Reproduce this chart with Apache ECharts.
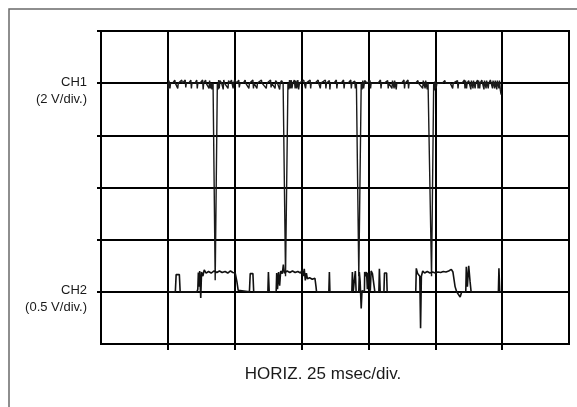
<!DOCTYPE html>
<html>
<head>
<meta charset="utf-8">
<script src="https://cdn.jsdelivr.net/npm/echarts@6/dist/echarts.min.js"></script>
<style>html,body{margin:0;padding:0;background:#fff;}#c{width:577px;height:407px;}</style>
</head>
<body>
<div id="c"></div>
<script>
// time axis in msec (25 msec/div, 7 divisions); vertical axis in screen divisions (6 divisions)
const timeTicks = [25, 50, 75, 100, 125, 150];
const divTicks = [1, 2, 3, 4, 5, 6];
const channelLabels = [
  { level: 5, name: 'CH1', scale: '(2 V/div.)' },
  { level: 1, name: 'CH2', scale: '(0.5 V/div.)' }
];
const xTitle = 'HORIZ. 25 msec/div.';

// CH1 trace: [msec, div]
const ch1 = [
  [25,5],[25.2,4.88],[25.4,5.05],[25.8,4.9],[26,5],[26.8,5],[27.6,5.06],[27.8,5],[28.7,4.9],[28.9,5],[30.2,5.06],[30.4,5],
  [31.5,5.06],[31.7,4.92],[31.9,5],[32.8,5],[33.6,5.06],[33.8,4.9],[34,5],[35.2,5],[35.8,5.06],[36,4.9],[36.2,5],[37,5],
  [38,5.06],[38.2,4.88],[38.4,5],[39.1,5.06],[39.3,5],[40.4,4.9],[40.6,5.05],[41,4.9],[41.2,5],[41.5,4.88],[41.9,5],
  [42.7,1.22],[43.5,5],
  [43.8,4.88],[44,5.06],[44.2,4.9],[44.5,5.05],[45.1,5],[45.7,4.88],[45.9,5.06],[46.2,5],[46.8,5],[47.5,4.9],[47.7,5.05],
  [48.1,5],[48.8,5.06],[49,5],[49.4,4.9],[49.6,5],[50,5.06],[50.8,5],[51.5,5.06],[51.7,4.92],[52,5],[53.2,5],[53.9,5.06],
  [54.1,5],[55.3,4.9],[55.5,5],[56,5],[56.8,5.06],[57,4.9],[57.2,5],[58.3,4.9],[58.5,5],[59.2,5],[60,5.06],[60.2,5],
  [61.8,4.9],[62,5],[62.5,5],[63.4,5.06],[63.6,4.92],[63.8,5],[65.1,4.9],[65.3,5.05],[66,5],[66.8,4.88],[67,5],[67.5,5.05],[68.1,5],
  [69,1.3],[69.9,5],
  [70.2,4.88],[70.5,5.06],[70.8,4.9],[71.1,5.06],[71.4,4.9],[71.7,5],[72.3,5.06],[72.6,4.9],[72.9,5.05],[73.2,4.9],
  [73.6,5.06],[73.9,4.88],[74.2,5],[74.9,5],[75.8,5.06],[76,5],[76.5,4.9],[76.7,5],[77.3,5],[78.2,5.06],[78.4,4.9],
  [78.6,5],[80,5],[81.2,5.06],[81.4,5],[82,4.9],[82.2,5],[82.8,5],[83.9,5.06],[84.1,4.9],[84.3,5],[85.4,5.05],[85.6,4.88],
  [85.8,5],[87.1,5],[88,5.06],[88.2,4.9],[88.4,5],[89.8,5],[90.7,5.06],[90.9,4.9],[91.1,5],[92.4,5],[93.4,5.06],[93.6,4.9],
  [93.8,5],[94.9,5.04],[95.1,4.9],[95.5,5],
  [96.4,1.3],[97.3,5],
  [97.6,4.88],[97.9,5.05],[98.2,4.9],[98.6,5.05],[99.5,5],[100.6,5.05],[100.8,4.9],[101,5],[102.4,5],[103.6,5],[104.5,5.06],
  [104.7,4.9],[104.9,5],[106,5],[107.2,5.05],[107.4,4.9],[107.6,5],[108.8,4.9],[109,5.05],[109.6,4.9],[109.8,5.05],
  [110.4,4.88],[110.6,5],[111.2,5],[112.4,5],[113.3,5.06],[113.5,4.9],[113.7,5],[114.8,5.06],[115,4.9],[115.2,5],[116.5,5],
  [117.6,5],[118.5,5.05],[118.7,5],[120.3,4.9],[120.5,5.05],[121.2,4.9],[121.4,5.05],[122,4.88],[122.3,5],[122.8,5],
  [123.6,1.3],[124.4,5],
  [124.7,4.86],[125,5.04],[125.3,4.9],[125.6,5],[126.5,5],[127.6,5],[128.6,5.05],[128.8,5],[130.6,5],[131.5,4.9],[131.7,5],
  [133.3,5.05],[133.5,4.9],[133.7,5],[135,5],[135.9,5.06],[136.1,4.9],[136.3,5.05],[136.7,4.9],[136.9,5],[137.5,5.05],
  [138.3,4.88],[138.5,5.05],[139.1,4.9],[139.3,5.05],[139.9,4.9],[140.1,5],[140.8,5.06],[141,4.9],[141.2,5.05],[141.6,4.9],
  [141.8,5],[142.4,5.06],[143.2,4.88],[143.4,5.05],[144,4.9],[144.2,5.05],[144.8,4.9],[145,5],[145.6,5.06],[146.4,4.9],
  [146.6,5.05],[147.2,4.9],[147.4,5.05],[148,4.88],[148.2,5.05],[148.8,4.9],[149,5.05],[149.3,4.88],[149.6,4.78]
];

// CH2 trace: [msec, div]
const ch2 = [
  [25,1],[27.8,1],[28.1,1.33],[29.3,1.33],[29.6,1],[35.9,1],[36.2,1.05],[36.4,1.37],[36.7,1.1],[36.9,1.4],[37.3,0.88],
  [37.6,1.38],[38.1,1.3],[38.6,1.42],[39.3,1.36],[40.2,1.39],[41.2,1.36],[42.3,1.4],[43.3,1.37],[44.3,1.4],[45.3,1.37],
  [46.4,1.39],[47.4,1.36],[48.4,1.4],[49.3,1.37],[50.2,1.36],[50.8,1.2],[51.3,1.03],[51.8,1],[55.5,1],[55.8,1.35],
  [56.8,1.35],[57.1,1],[62.4,1],[62.6,1.38],[62.9,1],[65.5,1],[65.7,1.36],[66,1.05],[66.4,1.38],[66.8,1.12],[67.2,1.4],
  [67.8,1.35],[68.2,1.52],[68.6,1.36],[69.6,1.4],[70.6,1.37],[71.6,1.4],[72.6,1.37],[73.6,1.39],[74.6,1.36],[75.2,1.42],
  [75.6,1.3],[76,1.44],[76.4,1.22],[76.8,1.36],[77.2,1.25],[78,1.27],[79,1.24],[80,1.26],[80.4,1.1],[80.6,1],
  [85.2,1],[85.4,1.38],[85.6,1],[93.8,1],[94,1.38],[94.3,1],[94.9,1],[95.1,1.4],[95.4,1],[96.4,1],[96.6,1.38],
  [96.9,1.2],[97.3,0.68],[97.6,1.02],[98.5,1],[98.6,1.38],[99,1.3],[99.3,1.38],[99.6,1.05],[99.9,1.36],[100.4,1.38],
  [100.7,1.02],[101,1.4],[101.5,1.35],[102,1.38],[102.4,1],[103.9,1],[104.1,1.44],[104.4,1],[105.8,1],[106,1.36],
  [106.8,1.36],[107,1],[117.7,1],[117.9,1.45],[118.4,1.35],[119.2,1.3],[119.5,0.3],[119.8,1.3],[120.3,1.4],[121,1.36],
  [122,1.39],[123,1.36],[124,1.38],[125,1.36],[126,1.38],[127,1.37],[128,1.39],[129,1.38],[130,1.4],[131,1.43],
  [131.6,1.38],[132.4,1.1],[133,1],[134.3,0.9],[134.9,1],[136.4,1],[136.6,1.48],[137,1.1],[137.5,1.5],[138,1.2],
  [138.4,1],[148.6,1],[148.8,1.45],[149.1,1],[149.6,1]
];

const FONT = "'Liberation Sans', Arial, Helvetica, sans-serif";
const chart = echarts.init(document.getElementById('c'), null, { renderer: 'canvas' });
const option = {
  animation: false,
  backgroundColor: '#fff',
  grid: { left: 101, top: 31, width: 468, height: 313, show: true, borderColor: '#000', borderWidth: 2, backgroundColor: 'transparent' },
  xAxis: {
    type: 'value', min: 0, max: 175, interval: 25,
    axisLine: { show: true, lineStyle: { color: '#000', width: 2 } },
    axisTick: { show: true, customValues: timeTicks, length: 6, lineStyle: { color: '#000', width: 2 } },
    axisLabel: { show: false },
    splitLine: { show: true, lineStyle: { color: '#000', width: 2 } },
    name: xTitle, nameLocation: 'middle', nameGap: 22,
    nameTextStyle: { fontFamily: FONT, fontSize: 17, color: '#1a1a1a', padding: [0, 24, 0, 0] }
  },
  yAxis: {
    type: 'value', min: 0, max: 6, interval: 1,
    axisLine: { show: true, lineStyle: { color: '#000', width: 2 } },
    axisTick: { show: true, customValues: divTicks, length: 4, lineStyle: { color: '#000', width: 2 } },
    axisLabel: { show: false },
    splitLine: { show: true, lineStyle: { color: '#000', width: 2 } }
  },
  series: [
    { name: 'CH1', type: 'line', data: ch1, showSymbol: false, symbol: 'none',
      lineStyle: { color: '#1a1a1a', width: 1.4 }, z: 3 },
    { name: 'CH2', type: 'line', data: ch2, showSymbol: false, symbol: 'none',
      lineStyle: { color: '#111', width: 1.6 }, z: 3 }
  ]
};
chart.setOption(option);

const graphics = [
  { type: 'rect', shape: { x: 9, y: 9, width: 640, height: 460 }, style: { fill: null, stroke: '#6a6a6a', lineWidth: 1.5 }, silent: true, z: -1 }
];
channelLabels.forEach(function (c) {
  const p = chart.convertToPixel({ gridIndex: 0 }, [0, c.level]);
  graphics.push({ type: 'text', x: p[0] - 14, y: p[1] - 1, style: { text: c.name, fontFamily: FONT, fontSize: 13, fill: '#1a1a1a', align: 'right', verticalAlign: 'middle' } });
  graphics.push({ type: 'text', x: p[0] - 14, y: p[1] + 16, style: { text: c.scale, fontFamily: FONT, fontSize: 13, fill: '#1a1a1a', align: 'right', verticalAlign: 'middle' } });
});
chart.setOption({ graphic: graphics });
</script>
</body>
</html>
